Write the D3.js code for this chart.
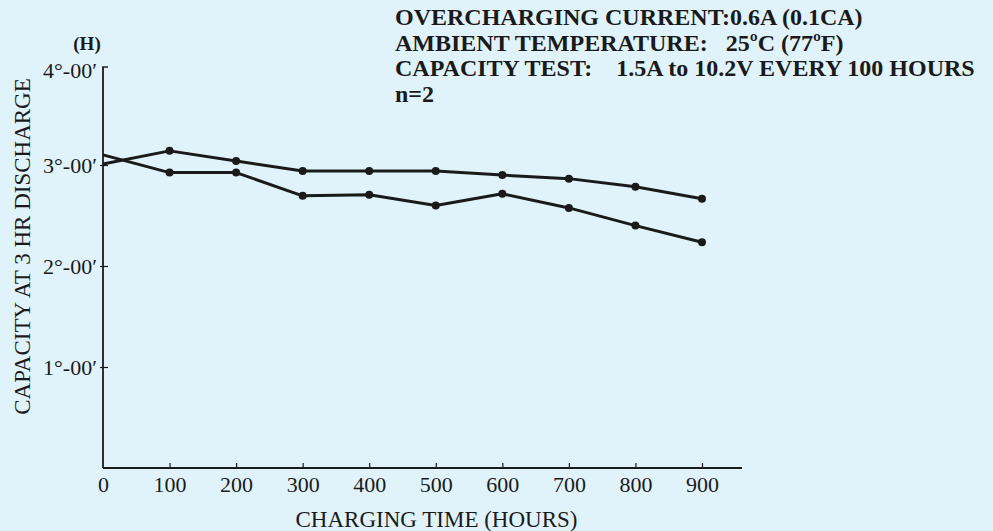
<!DOCTYPE html>
<html><head><meta charset="utf-8">
<script src="https://cdn.jsdelivr.net/npm/d3@7"></script>
<style>
html,body{margin:0;padding:0;background:#e0f3fb;}
svg{display:block;}
text{font-family:"Liberation Serif","DejaVu Serif",serif;fill:#1a1a1a;}
</style></head>
<body>
<svg id="chart" width="993" height="531"></svg>
<script>
const hours = [0,100,200,300,400,500,600,700,800,900];
const sampleA = [3.01,3.14,3.04,2.94,2.94,2.94,2.90,2.865,2.785,2.665];
const sampleB = [3.10,2.925,2.925,2.695,2.705,2.60,2.715,2.575,2.40,2.235];
const yTicks = [1,2,3,4];
const yTickLabels = ["1°-00′","2°-00′","3°-00′","4°-00′"];
const xTicks = [0,100,200,300,400,500,600,700,800,900];
const headerLines = [
  "OVERCHARGING CURRENT:0.6A (0.1CA)",
  "AMBIENT TEMPERATURE:   25ºC (77ºF)",
  "CAPACITY TEST:    1.5A to 10.2V EVERY 100 HOURS",
  "n=2"
];
const xTitle = "CHARGING TIME (HOURS)";
const yTitle = "CAPACITY AT 3 HR DISCHARGE";
const yUnit = "(H)";

const svg = d3.select("#chart");
const ink = "#1a1a1a";
const x = d3.scaleLinear().domain([0,900]).range([103,702]);
const y = d3.scaleLinear().domain([0,4]).range([468,64]);
const xEnd = 742;

// axes lines
svg.append("line").attr("x1",x(0)).attr("x2",xEnd).attr("y1",y(0)).attr("y2",y(0))
  .attr("stroke",ink).attr("stroke-width",1.8);
svg.append("line").attr("x1",x(0)).attr("x2",x(0)).attr("y1",y(0)).attr("y2",y(4)+3)
  .attr("stroke",ink).attr("stroke-width",1.8);
svg.append("line").attr("x1",x(0)-0.9).attr("x2",x(0)+5).attr("y1",y(4)+3).attr("y2",y(4)+3)
  .attr("stroke",ink).attr("stroke-width",1.4);

// x ticks
const xAxis = d3.axisBottom(x).tickValues(xTicks).tickSize(0).tickPadding(0).tickFormat(d3.format("d"));
const gx = svg.append("g").attr("transform",`translate(0,${y(0)})`).call(xAxis);
gx.select(".domain").remove();
gx.selectAll("text").attr("y",24).attr("dy",0).attr("font-size",22).attr("fill",ink)
  .style("font-family","'Liberation Serif',serif");
gx.selectAll(".tick").filter(d=>d>0).append("line").attr("y1",0).attr("y2",-5)
  .attr("stroke",ink).attr("stroke-width",1.2);

// y ticks
const yAxis = d3.axisLeft(y).tickValues(yTicks).tickSize(0).tickPadding(0)
  .tickFormat((d,i)=>yTickLabels[i]);
const gy = svg.append("g").attr("transform",`translate(${x(0)},0)`).call(yAxis);
gy.select(".domain").remove();
gy.selectAll("text").attr("x",-6).attr("dy","0.35em").attr("font-size",22).attr("fill",ink)
  .style("font-family","'Liberation Serif',serif");
gy.selectAll(".tick").filter(d=>d<4).append("line").attr("x1",-3).attr("x2",5)
  .attr("stroke",ink).attr("stroke-width",1.2);
gy.selectAll(".tick").filter(d=>d===4).select("text").attr("dy","0.6em");

// lines
const line = d3.line().x((d,i)=>x(hours[i])).y(d=>y(d));
[sampleA,sampleB].forEach(s=>{
  svg.append("path").datum(s).attr("d",line).attr("fill","none")
    .attr("stroke",ink).attr("stroke-width",3).attr("stroke-linejoin","round");
  svg.selectAll(null).data(s.slice(1)).enter().append("circle")
    .attr("cx",(d,i)=>x(hours[i+1])).attr("cy",d=>y(d)).attr("r",4).attr("fill",ink);
});

// titles
svg.append("text").attr("x",436.5).attr("y",527).attr("text-anchor","middle")
  .attr("font-size",23).text(xTitle);
svg.append("text").attr("transform",`translate(30,246.5) rotate(-90)`).attr("text-anchor","middle")
  .attr("font-size",23).text(yTitle);
svg.append("text").attr("x",87).attr("y",50).attr("text-anchor","middle")
  .attr("font-size",19).attr("font-weight","bold").text(yUnit);

// header
headerLines.forEach((t,i)=>{
  svg.append("text").attr("x",395).attr("y",25+i*25.7).attr("font-size",24)
    .attr("font-weight","bold").style("white-space","pre").text(t);
});
</script>
</body></html>
